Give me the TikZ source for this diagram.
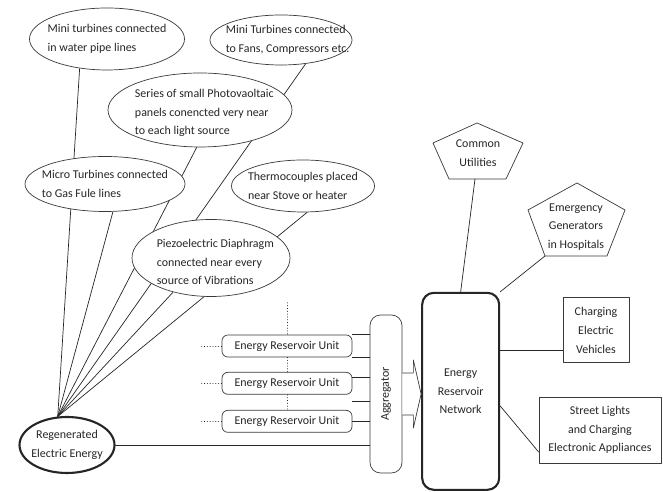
\documentclass[tikz,border=0pt]{standalone}
\usepackage{fontspec}
\setmainfont{Carlito}
\usepackage{tikz}
\usetikzlibrary{shapes.geometric,positioning,calc,backgrounds}
\definecolor{ERInk}{HTML}{262626}
\definecolor{ERLine}{HTML}{3A3A3A}

\begin{document}
\begin{tikzpicture}[x=1cm,y=1cm,font={\fontsize{10.2}{16}\selectfont},
  line cap=round,line join=round,
  src/.style={ellipse,draw=ERLine,line width=0.6pt,fill=white,inner sep=0pt},
  srctxt/.style={align=left,text=ERInk,inner sep=0pt},
  pentxt/.style={align=center,text=ERInk,inner sep=0pt},
  unitbox/.style={draw=ERLine,line width=0.6pt,fill=white,rounded corners=5pt,
    minimum width=3.9cm,minimum height=0.66cm,inner sep=0pt,text=ERInk},
  sinkbox/.style={draw=ERLine,line width=0.6pt,align=center,text=ERInk,
    inner sep=0pt},
  wire/.style={ERInk,line width=0.6pt}]
  \path[use as bounding box] (0,0) rectangle (19.89,14.76);

  % Harvesting sources (text sits in a centred label so the ellipse keeps its size)
  \node[src,minimum width=4.65cm,minimum height=1.86cm,
        label={[srctxt,name=watertxt]center:{Mini turbines connected\\in water pipe lines}}]
    (water) at (3.21,13.59) {};
  \node[src,minimum width=4.26cm,minimum height=1.50cm,
        label={[srctxt,name=fanstxt,xshift=0.2cm]center:{Mini Turbines connected\\to Fans, Compressors etc.}}]
    (fans) at (8.43,13.56) {};
  \node[src,minimum width=5.52cm,minimum height=2.22cm,
        label={[srctxt,name=phototxt,xshift=0.13cm,yshift=-0.09cm]center:{Series of small Photovaoltaic\\panels conencted very near\\to each light source}}]
    (photo) at (6.00,11.46) {};
  \node[src,minimum width=4.80cm,minimum height=1.65cm,
        label={[srctxt,name=microtxt]center:{Micro Turbines connected\\to Gas Fule lines}}]
    (micro) at (3.15,9.24) {};
  \node[src,minimum width=4.29cm,minimum height=1.56cm,
        label={[srctxt,name=thermotxt]center:{Thermocouples placed\\near Stove or heater}}]
    (thermo) at (9.09,9.18) {};
  \node[src,minimum width=4.74cm,minimum height=2.31cm,
        label={[srctxt,name=piezotxt,xshift=0.13cm,yshift=-0.12cm]center:{Piezoelectric Diaphragm\\connected near every\\source of Vibrations}}]
    (piezo) at (6.33,7.02) {};
  \node[src,draw=ERInk,line width=1.8pt,minimum width=2.85cm,minimum height=1.68cm,
        label={[pentxt,name=regentxt]center:{Regenerated\\Electric Energy}}]
    (regen) at (2.01,1.41) {};

  % Storage chain
  \foreach \y/\n in {4.38/1,3.26/2,2.12/3}
    \node[unitbox] (u\n) at (8.61,\y) {Energy Reservoir Unit};
  \node[draw=ERLine,line width=0.6pt,fill=white,rounded corners=9pt,
        minimum width=0.96cm,minimum height=4.74cm,inner sep=0pt,text=ERInk]
    (agg) at (11.58,2.94) {\rotatebox{90}{Aggregator}};
  \node[draw=ERInk,line width=1.8pt,rounded corners=10pt,minimum width=2.31cm,
        minimum height=5.91cm,align=center,text=ERInk]
    (net) at (13.82,3.02) {Energy\\Reservoir\\Network};

  % Consumers
  \node[pentxt] (util) at (14.34,10.17) {Common\\Utilities};
  \draw[ERLine,line width=0.6pt,shift={(util.center)}]
    (-0.03,0.90) -- (1.35,0.30) -- (0.84,-0.78) -- (-0.87,-0.78) -- (-1.35,0.30) -- cycle;
  \coordinate (utilfoot) at ($(util.center)+(-0.09,-0.78)$);
  \node[pentxt] (emerg) at (17.28,7.95) {Emergency\\Generators\\in Hospitals};
  \draw[ERLine,line width=0.6pt,shift={(emerg.center)}]
    (0.03,1.32) -- (1.47,0.51) -- (0.93,-0.87) -- (-0.93,-0.87) -- (-1.44,0.51) -- cycle;
  \coordinate (emergfoot) at ($(emerg.center)+(-0.93,-0.87)$);
  \node[sinkbox,minimum width=1.98cm,minimum height=1.95cm]
    (charge) at (17.88,4.85) {Charging\\Electric\\Vehicles};
  \node[sinkbox,minimum width=3.66cm,minimum height=1.98cm]
    (street) at (18.00,1.86) {Street Lights\\and Charging\\Electronic Appliances};

  % Dotted feeders round the units
  \foreach \n in {1,2,3}
    \draw[ERInk,dotted] (u\n.west) -- ++(-0.66,0);
  \draw[ERInk,dotted] (u1.north) ++(0,0.96) -- (u1.north);
  \draw[ERInk,dotted] (u1.south) -- (u2.north);
  \draw[ERInk,dotted] (u2.south) -- (u3.north);

  % Units into the aggregator
  \coordinate (u2a) at ($(u2.north east)+(0,-0.17)$);
  \coordinate (u2b) at ($(u2.south east)+(0,-0.20)$);
  \draw[wire] (u1.north east) -- (u1.north east -| agg.west);
  \draw[wire] (u1.south east) -- (u1.south east -| agg.west);
  \draw[wire] (u2a) -- (u2a -| agg.west);
  \draw[wire] (u2b) -- (u2b -| agg.west);
  \draw[wire] (u3.east) -- (u3.east -| agg.west);
  \draw[wire] (regen.east) -- (regen.east -| agg.west);

  % Block arrow from aggregator to network
  \draw[ERLine,line width=0.6pt,fill=white]
    ($(agg.east)+(0,0.63)$) -- ++(0.33,0) -- ++(0,0.39) -- (agg.east -| net.west)
    -- ($(agg.east)+(0.33,-1.02)$) -- ++(0,0.39) -- ($(agg.east)+(0,-0.63)$);

  % Network to consumers
  \coordinate (cvin) at ($(charge.west)+(0,-0.59)$);
  \draw[wire] (utilfoot) -- (net.north);
  \draw[wire] (emergfoot) -- (net.north east);
  \draw[wire] (cvin -| net.east) -- (cvin);
  \draw[wire] ($(net.east)+(0,-0.44)$) -- ($(street.west)+(0,-0.66)$);

  % Fan-in lines run behind the white ellipses
  \begin{scope}[on background layer]
    \fill[white] (0,0) rectangle (19.89,14.76);
    \foreach \s/\a in {water/-133,micro/-74,photo/-95,fans/-44,thermo/-81,piezo/-138}
      \draw[wire] (\s.\a) -- (regen.108);
  \end{scope}
\end{tikzpicture}
\end{document}
